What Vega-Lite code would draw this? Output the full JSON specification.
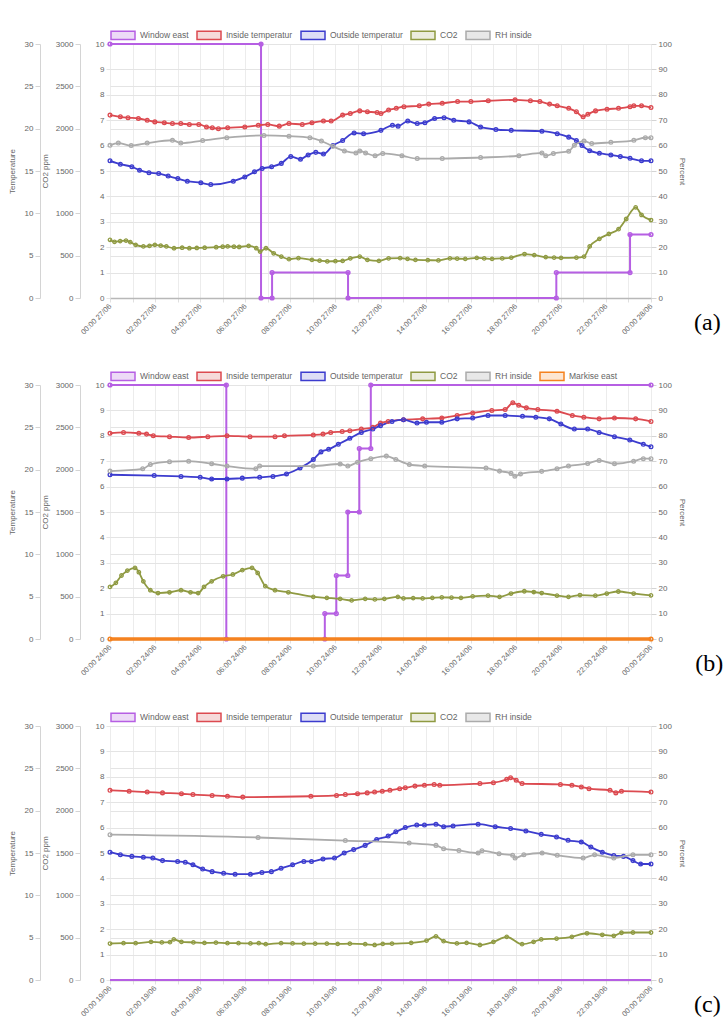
{
"$schema": "https://vega.github.io/schema/vega-lite/v6.json",
"background": "white",
"padding": {"left": 8, "top": 22, "right": 0, "bottom": 0},
"datasets": {
"a_win": [{"h":0,"v":10},{"h":6.7,"v":10},{"h":6.7,"v":0},{"h":7.19,"v":0},{"h":7.19,"v":1},{"h":10.56,"v":1},{"h":10.56,"v":0},{"h":19.8,"v":0},{"h":19.8,"v":1},{"h":23.07,"v":1},{"h":23.07,"v":2.5},{"h":24,"v":2.5}],
"a_temp": [
{"s":"Inside temperatur","h":0,"v":21.6},{"s":"Inside temperatur","h":0.46,"v":21.4},{"s":"Inside temperatur","h":0.8,"v":21.3},{"s":"Inside temperatur","h":1.26,"v":21.2},{"s":"Inside temperatur","h":1.65,"v":21.0},{"s":"Inside temperatur","h":1.99,"v":20.8},{"s":"Inside temperatur","h":2.41,"v":20.7},{"s":"Inside temperatur","h":2.77,"v":20.6},{"s":"Inside temperatur","h":3.14,"v":20.6},{"s":"Inside temperatur","h":3.52,"v":20.5},{"s":"Inside temperatur","h":3.94,"v":20.5},{"s":"Inside temperatur","h":4.28,"v":20.2},{"s":"Inside temperatur","h":4.54,"v":20.1},{"s":"Inside temperatur","h":4.81,"v":20.0},{"s":"Inside temperatur","h":5.22,"v":20.1},{"s":"Inside temperatur","h":5.98,"v":20.2},{"s":"Inside temperatur","h":6.58,"v":20.4},{"s":"Inside temperatur","h":7.0,"v":20.5},{"s":"Inside temperatur","h":7.51,"v":20.3},{"s":"Inside temperatur","h":7.94,"v":20.6},{"s":"Inside temperatur","h":8.53,"v":20.5},{"s":"Inside temperatur","h":8.96,"v":20.7},{"s":"Inside temperatur","h":9.47,"v":20.9},{"s":"Inside temperatur","h":9.81,"v":20.9},{"s":"Inside temperatur","h":10.32,"v":21.6},{"s":"Inside temperatur","h":10.66,"v":21.8},{"s":"Inside temperatur","h":11.08,"v":22.1},{"s":"Inside temperatur","h":11.42,"v":22.0},{"s":"Inside temperatur","h":11.85,"v":21.9},{"s":"Inside temperatur","h":12.02,"v":21.8},{"s":"Inside temperatur","h":12.36,"v":22.2},{"s":"Inside temperatur","h":12.7,"v":22.4},{"s":"Inside temperatur","h":13.04,"v":22.6},{"s":"Inside temperatur","h":13.72,"v":22.7},{"s":"Inside temperatur","h":14.14,"v":22.9},{"s":"Inside temperatur","h":14.74,"v":23.0},{"s":"Inside temperatur","h":15.42,"v":23.2},{"s":"Inside temperatur","h":16.01,"v":23.2},{"s":"Inside temperatur","h":16.78,"v":23.3},{"s":"Inside temperatur","h":17.97,"v":23.4},{"s":"Inside temperatur","h":18.65,"v":23.3},{"s":"Inside temperatur","h":19.07,"v":23.2},{"s":"Inside temperatur","h":19.5,"v":22.9},{"s":"Inside temperatur","h":19.84,"v":22.7},{"s":"Inside temperatur","h":20.35,"v":22.4},{"s":"Inside temperatur","h":20.69,"v":22.0},{"s":"Inside temperatur","h":20.99,"v":21.4},{"s":"Inside temperatur","h":21.2,"v":21.7},{"s":"Inside temperatur","h":21.54,"v":22.1},{"s":"Inside temperatur","h":22.05,"v":22.3},{"s":"Inside temperatur","h":22.56,"v":22.4},{"s":"Inside temperatur","h":23.07,"v":22.6},{"s":"Inside temperatur","h":23.24,"v":22.7},{"s":"Inside temperatur","h":23.58,"v":22.7},{"s":"Inside temperatur","h":24,"v":22.5},
{"s":"Outside temperatur","h":0,"v":16.2},{"s":"Outside temperatur","h":0.46,"v":15.8},{"s":"Outside temperatur","h":0.97,"v":15.5},{"s":"Outside temperatur","h":1.31,"v":15.1},{"s":"Outside temperatur","h":1.73,"v":14.8},{"s":"Outside temperatur","h":2.16,"v":14.7},{"s":"Outside temperatur","h":2.58,"v":14.4},{"s":"Outside temperatur","h":3.01,"v":14.1},{"s":"Outside temperatur","h":3.43,"v":13.8},{"s":"Outside temperatur","h":4.03,"v":13.6},{"s":"Outside temperatur","h":4.47,"v":13.4},{"s":"Outside temperatur","h":5.47,"v":13.8},{"s":"Outside temperatur","h":5.98,"v":14.3},{"s":"Outside temperatur","h":6.41,"v":14.9},{"s":"Outside temperatur","h":6.75,"v":15.3},{"s":"Outside temperatur","h":7.17,"v":15.5},{"s":"Outside temperatur","h":7.6,"v":15.9},{"s":"Outside temperatur","h":8.02,"v":16.7},{"s":"Outside temperatur","h":8.45,"v":16.4},{"s":"Outside temperatur","h":8.79,"v":16.9},{"s":"Outside temperatur","h":9.13,"v":17.2},{"s":"Outside temperatur","h":9.47,"v":17.0},{"s":"Outside temperatur","h":9.89,"v":18.0},{"s":"Outside temperatur","h":10.32,"v":18.6},{"s":"Outside temperatur","h":10.83,"v":19.5},{"s":"Outside temperatur","h":11.25,"v":19.4},{"s":"Outside temperatur","h":12.02,"v":19.8},{"s":"Outside temperatur","h":12.53,"v":20.4},{"s":"Outside temperatur","h":12.78,"v":20.3},{"s":"Outside temperatur","h":13.21,"v":20.9},{"s":"Outside temperatur","h":13.63,"v":20.6},{"s":"Outside temperatur","h":13.97,"v":20.7},{"s":"Outside temperatur","h":14.4,"v":21.2},{"s":"Outside temperatur","h":14.82,"v":21.3},{"s":"Outside temperatur","h":15.25,"v":21.0},{"s":"Outside temperatur","h":15.93,"v":20.8},{"s":"Outside temperatur","h":16.44,"v":20.2},{"s":"Outside temperatur","h":17.12,"v":19.9},{"s":"Outside temperatur","h":17.8,"v":19.8},{"s":"Outside temperatur","h":19.16,"v":19.7},{"s":"Outside temperatur","h":19.84,"v":19.4},{"s":"Outside temperatur","h":20.35,"v":19.0},{"s":"Outside temperatur","h":20.69,"v":18.6},{"s":"Outside temperatur","h":20.94,"v":18.0},{"s":"Outside temperatur","h":21.28,"v":17.4},{"s":"Outside temperatur","h":21.71,"v":17.1},{"s":"Outside temperatur","h":22.22,"v":16.9},{"s":"Outside temperatur","h":22.64,"v":16.7},{"s":"Outside temperatur","h":23.07,"v":16.5},{"s":"Outside temperatur","h":23.58,"v":16.2},{"s":"Outside temperatur","h":24,"v":16.2}],
"a_co2": [{"h":0,"v":687},{"h":0.2,"v":663},{"h":0.45,"v":672},{"h":0.71,"v":678},{"h":0.9,"v":660},{"h":1.14,"v":627},{"h":1.48,"v":609},{"h":1.75,"v":615},{"h":1.99,"v":627},{"h":2.25,"v":618},{"h":2.5,"v":609},{"h":2.84,"v":588},{"h":3.2,"v":594},{"h":3.52,"v":588},{"h":3.85,"v":591},{"h":4.2,"v":594},{"h":4.71,"v":600},{"h":5.0,"v":606},{"h":5.22,"v":609},{"h":5.5,"v":606},{"h":5.73,"v":603},{"h":6.15,"v":615},{"h":6.49,"v":588},{"h":6.66,"v":549},{"h":6.92,"v":588},{"h":7.26,"v":528},{"h":7.6,"v":489},{"h":7.94,"v":459},{"h":8.36,"v":471},{"h":8.96,"v":450},{"h":9.3,"v":441},{"h":9.64,"v":432},{"h":10.0,"v":435},{"h":10.32,"v":438},{"h":10.66,"v":468},{"h":11.08,"v":489},{"h":11.42,"v":450},{"h":11.93,"v":438},{"h":12.36,"v":468},{"h":12.87,"v":471},{"h":13.2,"v":462},{"h":13.55,"v":450},{"h":14.1,"v":447},{"h":14.57,"v":444},{"h":15.08,"v":468},{"h":15.4,"v":465},{"h":15.76,"v":462},{"h":16.27,"v":474},{"h":16.6,"v":468},{"h":16.95,"v":462},{"h":17.4,"v":468},{"h":17.8,"v":477},{"h":18.39,"v":519},{"h":18.82,"v":507},{"h":19.33,"v":483},{"h":19.7,"v":477},{"h":20.01,"v":474},{"h":20.69,"v":477},{"h":21.03,"v":489},{"h":21.28,"v":609},{"h":21.71,"v":699},{"h":22.13,"v":756},{"h":22.56,"v":813},{"h":22.9,"v":933},{"h":23.32,"v":1071},{"h":23.58,"v":981},{"h":24,"v":921}],
"a_rh": [{"h":0,"v":60.1},{"h":0.37,"v":61.0},{"h":0.94,"v":60.0},{"h":1.65,"v":61.0},{"h":2.77,"v":62.1},{"h":3.14,"v":61.0},{"h":4.11,"v":62.0},{"h":5.18,"v":63.1},{"h":6.83,"v":64.0},{"h":7.94,"v":63.7},{"h":8.87,"v":63.1},{"h":9.38,"v":61.8},{"h":9.89,"v":59.7},{"h":10.4,"v":57.9},{"h":10.91,"v":57.1},{"h":11.08,"v":57.9},{"h":11.34,"v":57.1},{"h":11.76,"v":56.0},{"h":12.1,"v":56.9},{"h":12.95,"v":56.0},{"h":13.63,"v":54.9},{"h":14.74,"v":54.9},{"h":16.44,"v":55.3},{"h":18.14,"v":56.0},{"h":19.16,"v":57.1},{"h":19.33,"v":56.0},{"h":19.67,"v":56.9},{"h":20.35,"v":57.8},{"h":20.6,"v":60.1},{"h":21.03,"v":61.8},{"h":21.37,"v":60.8},{"h":22.22,"v":61.3},{"h":23.24,"v":62.1},{"h":23.75,"v":63.1},{"h":24,"v":63.1}],
"b_win": [{"h":0,"v":10},{"h":5.16,"v":10},{"h":5.16,"v":0},{"h":9.53,"v":0},{"h":9.53,"v":1},{"h":10.04,"v":1},{"h":10.04,"v":2.5},{"h":10.55,"v":2.5},{"h":10.55,"v":5},{"h":11.06,"v":5},{"h":11.06,"v":7.5},{"h":11.57,"v":7.5},{"h":11.57,"v":10},{"h":24,"v":10}],
"b_mark": [{"h":0,"v":0},{"h":24,"v":0}],
"b_temp": [
{"s":"Inside temperatur","h":0,"v":24.3},{"s":"Inside temperatur","h":0.6,"v":24.4},{"s":"Inside temperatur","h":1.28,"v":24.3},{"s":"Inside temperatur","h":1.62,"v":24.2},{"s":"Inside temperatur","h":1.92,"v":24.0},{"s":"Inside temperatur","h":2.64,"v":23.9},{"s":"Inside temperatur","h":3.49,"v":23.8},{"s":"Inside temperatur","h":4.34,"v":23.9},{"s":"Inside temperatur","h":5.19,"v":24.0},{"s":"Inside temperatur","h":6.21,"v":23.9},{"s":"Inside temperatur","h":7.32,"v":23.9},{"s":"Inside temperatur","h":7.74,"v":24.0},{"s":"Inside temperatur","h":9.02,"v":24.1},{"s":"Inside temperatur","h":9.45,"v":24.2},{"s":"Inside temperatur","h":9.79,"v":24.4},{"s":"Inside temperatur","h":10.3,"v":24.5},{"s":"Inside temperatur","h":10.64,"v":24.6},{"s":"Inside temperatur","h":11.15,"v":24.8},{"s":"Inside temperatur","h":11.66,"v":25.0},{"s":"Inside temperatur","h":12.0,"v":25.5},{"s":"Inside temperatur","h":12.34,"v":25.7},{"s":"Inside temperatur","h":13.02,"v":25.9},{"s":"Inside temperatur","h":13.87,"v":26.0},{"s":"Inside temperatur","h":14.72,"v":26.1},{"s":"Inside temperatur","h":15.4,"v":26.4},{"s":"Inside temperatur","h":16.09,"v":26.7},{"s":"Inside temperatur","h":16.94,"v":27.0},{"s":"Inside temperatur","h":17.53,"v":27.1},{"s":"Inside temperatur","h":17.87,"v":27.9},{"s":"Inside temperatur","h":18.13,"v":27.6},{"s":"Inside temperatur","h":18.47,"v":27.3},{"s":"Inside temperatur","h":18.98,"v":27.1},{"s":"Inside temperatur","h":19.83,"v":26.9},{"s":"Inside temperatur","h":20.51,"v":26.4},{"s":"Inside temperatur","h":21.02,"v":26.2},{"s":"Inside temperatur","h":21.7,"v":26.0},{"s":"Inside temperatur","h":22.38,"v":26.1},{"s":"Inside temperatur","h":23.32,"v":26.0},{"s":"Inside temperatur","h":24,"v":25.7},
{"s":"Outside temperatur","h":0,"v":19.4},{"s":"Outside temperatur","h":1.96,"v":19.3},{"s":"Outside temperatur","h":3.15,"v":19.2},{"s":"Outside temperatur","h":4.0,"v":19.1},{"s":"Outside temperatur","h":4.51,"v":18.9},{"s":"Outside temperatur","h":5.19,"v":18.9},{"s":"Outside temperatur","h":5.87,"v":19.0},{"s":"Outside temperatur","h":6.64,"v":19.1},{"s":"Outside temperatur","h":7.23,"v":19.2},{"s":"Outside temperatur","h":7.83,"v":19.5},{"s":"Outside temperatur","h":8.43,"v":20.2},{"s":"Outside temperatur","h":9.02,"v":21.2},{"s":"Outside temperatur","h":9.36,"v":22.1},{"s":"Outside temperatur","h":9.7,"v":22.4},{"s":"Outside temperatur","h":10.13,"v":23.0},{"s":"Outside temperatur","h":10.64,"v":23.7},{"s":"Outside temperatur","h":11.15,"v":24.4},{"s":"Outside temperatur","h":11.66,"v":24.8},{"s":"Outside temperatur","h":12.0,"v":25.2},{"s":"Outside temperatur","h":12.51,"v":25.7},{"s":"Outside temperatur","h":13.02,"v":25.9},{"s":"Outside temperatur","h":13.62,"v":25.5},{"s":"Outside temperatur","h":14.04,"v":25.6},{"s":"Outside temperatur","h":14.72,"v":25.6},{"s":"Outside temperatur","h":15.4,"v":26.0},{"s":"Outside temperatur","h":16.09,"v":26.1},{"s":"Outside temperatur","h":16.77,"v":26.4},{"s":"Outside temperatur","h":17.53,"v":26.4},{"s":"Outside temperatur","h":18.3,"v":26.3},{"s":"Outside temperatur","h":18.89,"v":26.2},{"s":"Outside temperatur","h":19.49,"v":26.0},{"s":"Outside temperatur","h":20.0,"v":25.4},{"s":"Outside temperatur","h":20.6,"v":24.8},{"s":"Outside temperatur","h":21.19,"v":24.8},{"s":"Outside temperatur","h":21.7,"v":24.4},{"s":"Outside temperatur","h":22.38,"v":23.9},{"s":"Outside temperatur","h":23.06,"v":23.5},{"s":"Outside temperatur","h":23.66,"v":23.0},{"s":"Outside temperatur","h":24,"v":22.7}],
"b_co2": [{"h":0,"v":615},{"h":0.26,"v":663},{"h":0.51,"v":750},{"h":0.77,"v":807},{"h":1.11,"v":840},{"h":1.28,"v":789},{"h":1.48,"v":681},{"h":1.79,"v":576},{"h":2.13,"v":543},{"h":2.64,"v":552},{"h":3.15,"v":576},{"h":3.57,"v":552},{"h":3.91,"v":543},{"h":4.17,"v":615},{"h":4.51,"v":681},{"h":5.02,"v":741},{"h":5.45,"v":762},{"h":5.87,"v":813},{"h":6.3,"v":840},{"h":6.55,"v":780},{"h":6.89,"v":624},{"h":7.32,"v":576},{"h":7.91,"v":552},{"h":9.02,"v":498},{"h":9.62,"v":486},{"h":10.21,"v":474},{"h":10.72,"v":456},{"h":11.32,"v":474},{"h":11.75,"v":468},{"h":12.17,"v":474},{"h":12.77,"v":498},{"h":13.02,"v":480},{"h":13.45,"v":483},{"h":13.87,"v":480},{"h":14.3,"v":486},{"h":14.72,"v":492},{"h":15.15,"v":489},{"h":15.57,"v":486},{"h":16.09,"v":504},{"h":16.77,"v":513},{"h":17.28,"v":498},{"h":17.79,"v":537},{"h":18.38,"v":564},{"h":18.8,"v":555},{"h":19.15,"v":543},{"h":19.83,"v":513},{"h":20.34,"v":498},{"h":20.85,"v":519},{"h":21.53,"v":513},{"h":22.04,"v":537},{"h":22.55,"v":561},{"h":23.23,"v":537},{"h":24,"v":516}],
"b_rh": [{"h":0,"v":66.1},{"h":1.45,"v":67.0},{"h":1.79,"v":68.7},{"h":2.64,"v":69.8},{"h":3.49,"v":70.0},{"h":4.51,"v":69.0},{"h":5.19,"v":68.1},{"h":6.47,"v":67.0},{"h":6.64,"v":68.1},{"h":9.02,"v":68.1},{"h":10.21,"v":68.9},{"h":10.55,"v":68.1},{"h":10.98,"v":69.6},{"h":11.57,"v":71.0},{"h":12.26,"v":72.0},{"h":12.68,"v":70.7},{"h":13.28,"v":68.7},{"h":13.96,"v":68.1},{"h":16.68,"v":67.3},{"h":17.28,"v":66.1},{"h":17.79,"v":65.2},{"h":17.96,"v":64.1},{"h":18.21,"v":65.0},{"h":19.15,"v":66.0},{"h":19.83,"v":67.0},{"h":20.34,"v":68.1},{"h":21.19,"v":69.1},{"h":21.7,"v":70.3},{"h":22.38,"v":69.0},{"h":23.23,"v":70.0},{"h":23.66,"v":71.0},{"h":24,"v":71.0}],
"c_win": [{"h":0,"v":0},{"h":24,"v":0}],
"c_temp": [
{"s":"Inside temperatur","h":0,"v":22.4},{"s":"Inside temperatur","h":0.85,"v":22.3},{"s":"Inside temperatur","h":1.65,"v":22.2},{"s":"Inside temperatur","h":2.33,"v":22.1},{"s":"Inside temperatur","h":3.17,"v":22.0},{"s":"Inside temperatur","h":3.68,"v":21.9},{"s":"Inside temperatur","h":4.53,"v":21.8},{"s":"Inside temperatur","h":5.21,"v":21.7},{"s":"Inside temperatur","h":5.89,"v":21.6},{"s":"Inside temperatur","h":8.91,"v":21.7},{"s":"Inside temperatur","h":10.05,"v":21.8},{"s":"Inside temperatur","h":10.44,"v":21.9},{"s":"Inside temperatur","h":10.98,"v":22.0},{"s":"Inside temperatur","h":11.41,"v":22.1},{"s":"Inside temperatur","h":11.74,"v":22.2},{"s":"Inside temperatur","h":12.08,"v":22.3},{"s":"Inside temperatur","h":12.42,"v":22.4},{"s":"Inside temperatur","h":12.85,"v":22.6},{"s":"Inside temperatur","h":13.1,"v":22.7},{"s":"Inside temperatur","h":13.53,"v":22.9},{"s":"Inside temperatur","h":13.95,"v":23.0},{"s":"Inside temperatur","h":14.38,"v":23.1},{"s":"Inside temperatur","h":14.63,"v":23.0},{"s":"Inside temperatur","h":16.41,"v":23.2},{"s":"Inside temperatur","h":17.01,"v":23.3},{"s":"Inside temperatur","h":17.6,"v":23.7},{"s":"Inside temperatur","h":17.77,"v":23.9},{"s":"Inside temperatur","h":18.02,"v":23.6},{"s":"Inside temperatur","h":18.28,"v":23.2},{"s":"Inside temperatur","h":19.98,"v":23.1},{"s":"Inside temperatur","h":20.49,"v":23.0},{"s":"Inside temperatur","h":20.91,"v":22.8},{"s":"Inside temperatur","h":21.25,"v":22.6},{"s":"Inside temperatur","h":22.18,"v":22.4},{"s":"Inside temperatur","h":22.44,"v":22.1},{"s":"Inside temperatur","h":22.69,"v":22.3},{"s":"Inside temperatur","h":24,"v":22.2},
{"s":"Outside temperatur","h":0,"v":15.1},{"s":"Outside temperatur","h":0.46,"v":14.8},{"s":"Outside temperatur","h":0.97,"v":14.6},{"s":"Outside temperatur","h":1.48,"v":14.5},{"s":"Outside temperatur","h":1.9,"v":14.4},{"s":"Outside temperatur","h":2.33,"v":14.1},{"s":"Outside temperatur","h":3.0,"v":14.0},{"s":"Outside temperatur","h":3.34,"v":13.9},{"s":"Outside temperatur","h":3.68,"v":13.6},{"s":"Outside temperatur","h":4.11,"v":13.1},{"s":"Outside temperatur","h":4.53,"v":12.8},{"s":"Outside temperatur","h":5.04,"v":12.6},{"s":"Outside temperatur","h":5.55,"v":12.5},{"s":"Outside temperatur","h":6.23,"v":12.5},{"s":"Outside temperatur","h":6.74,"v":12.7},{"s":"Outside temperatur","h":7.16,"v":12.8},{"s":"Outside temperatur","h":7.59,"v":13.2},{"s":"Outside temperatur","h":8.1,"v":13.6},{"s":"Outside temperatur","h":8.6,"v":14.0},{"s":"Outside temperatur","h":8.94,"v":14.0},{"s":"Outside temperatur","h":9.45,"v":14.3},{"s":"Outside temperatur","h":9.96,"v":14.4},{"s":"Outside temperatur","h":10.39,"v":15.0},{"s":"Outside temperatur","h":10.81,"v":15.4},{"s":"Outside temperatur","h":11.32,"v":15.9},{"s":"Outside temperatur","h":11.83,"v":16.6},{"s":"Outside temperatur","h":12.34,"v":17.0},{"s":"Outside temperatur","h":12.68,"v":17.5},{"s":"Outside temperatur","h":13.1,"v":18.0},{"s":"Outside temperatur","h":13.61,"v":18.3},{"s":"Outside temperatur","h":13.95,"v":18.3},{"s":"Outside temperatur","h":14.46,"v":18.4},{"s":"Outside temperatur","h":14.8,"v":18.1},{"s":"Outside temperatur","h":15.22,"v":18.2},{"s":"Outside temperatur","h":16.33,"v":18.4},{"s":"Outside temperatur","h":17.09,"v":18.1},{"s":"Outside temperatur","h":17.77,"v":17.9},{"s":"Outside temperatur","h":18.45,"v":17.6},{"s":"Outside temperatur","h":19.13,"v":17.2},{"s":"Outside temperatur","h":19.81,"v":16.9},{"s":"Outside temperatur","h":20.32,"v":16.5},{"s":"Outside temperatur","h":20.91,"v":16.3},{"s":"Outside temperatur","h":21.33,"v":15.7},{"s":"Outside temperatur","h":21.84,"v":15.1},{"s":"Outside temperatur","h":22.35,"v":14.7},{"s":"Outside temperatur","h":22.78,"v":14.6},{"s":"Outside temperatur","h":23.2,"v":14.1},{"s":"Outside temperatur","h":23.54,"v":13.7},{"s":"Outside temperatur","h":24,"v":13.7}],
"c_co2": [{"h":0,"v":431},{"h":0.6,"v":435},{"h":1.14,"v":435},{"h":1.82,"v":450},{"h":2.3,"v":444},{"h":2.66,"v":447},{"h":2.83,"v":480},{"h":3.17,"v":450},{"h":3.7,"v":444},{"h":4.19,"v":438},{"h":4.7,"v":441},{"h":5.21,"v":435},{"h":5.7,"v":435},{"h":6.23,"v":432},{"h":6.6,"v":435},{"h":6.91,"v":423},{"h":7.59,"v":435},{"h":8.1,"v":432},{"h":8.6,"v":429},{"h":9.1,"v":429},{"h":9.62,"v":429},{"h":10.1,"v":426},{"h":10.64,"v":429},{"h":11.32,"v":423},{"h":11.74,"v":414},{"h":12.1,"v":426},{"h":12.51,"v":429},{"h":13.36,"v":438},{"h":14.04,"v":465},{"h":14.46,"v":516},{"h":14.8,"v":459},{"h":15.39,"v":432},{"h":15.82,"v":438},{"h":16.41,"v":414},{"h":17.01,"v":450},{"h":17.6,"v":510},{"h":18.28,"v":423},{"h":18.79,"v":450},{"h":19.13,"v":480},{"h":19.81,"v":489},{"h":20.49,"v":510},{"h":21.16,"v":552},{"h":21.84,"v":534},{"h":22.35,"v":522},{"h":22.69,"v":558},{"h":23.2,"v":561},{"h":24,"v":561}],
"c_rh": [{"h":0,"v":57.2},{"h":6.57,"v":56.1},{"h":10.44,"v":54.9},{"h":13.27,"v":53.9},{"h":14.46,"v":53.0},{"h":14.8,"v":51.7},{"h":15.48,"v":51.0},{"h":16.33,"v":50.0},{"h":16.5,"v":50.9},{"h":17.26,"v":49.7},{"h":17.86,"v":49.1},{"h":17.97,"v":48.0},{"h":18.36,"v":49.3},{"h":19.17,"v":50.0},{"h":19.84,"v":49.1},{"h":20.99,"v":48.0},{"h":21.5,"v":49.3},{"h":22.35,"v":48.0},{"h":23.2,"v":49.3},{"h":24,"v":49.3}]
},
"spacing": 27,
"resolve": {"scale": {"color": "independent", "x": "independent", "y": "independent"}, "legend": {"color": "independent"}},
"vconcat": [
{
"width": 541, "height": 254,
"title": {"text": "(a)", "orient": "right", "anchor": "end", "angle": 0, "align": "left", "baseline": "bottom", "font": "Liberation Serif", "fontSize": 24, "fontWeight": "normal", "color": "#000", "offset": -18, "frame": "bounds"},
"encoding": {"x": {"field": "h", "type": "quantitative", "scale": {"domain": [0, 24], "nice": false, "zero": false},
  "axis": {"title": null, "values": [0,1,2,3,4,5,6,7,8,9,10,11,12,13,14,15,16,17,18,19,20,21,22,23,24], "labelExpr": "datum.value % 2 != 0 ? '' : ((datum.value % 24 < 10 ? '0' : '') + (datum.value % 24) + ':00 ' + (datum.value < 24 ? '27/06' : '28/06'))", "labelAngle": -45, "labelAlign": "right", "labelBaseline": "middle", "labelOverlap": false, "labelFlush": false, "labelBound": false, "labelFontSize": 7.5, "gridColor": "#ececec", "domainColor": "#b8b8b8", "domainWidth": 1.5, "tickColor": "#e0e0e0", "tickSize": 4, "labelPadding": 3}}},
"layer": [
 {"data": {"name": "a_win"}, "mark": {"type": "line", "strokeWidth": 2, "point": {"filled": false, "size": 14, "strokeWidth": 1.5}},
  "encoding": {"y": {"field": "v", "type": "quantitative", "scale": {"domain": [0, 10], "nice": false}, "axis": {"orient": "left", "title": null, "values": [0,1,2,3,4,5,6,7,8,9,10], "domain": false, "grid": true, "tickSize": 4, "tickColor": "#e5e5e5"}},
   "color": {"datum": "Window east", "type": "nominal", "title": null, "scale": {"domain": ["Window east", "Inside temperatur", "Outside temperatur", "CO2", "RH inside"], "range": ["#b65fe3", "#dc4a50", "#3c3cce", "#8f9a42", "#ababab"]},
    "legend": {"title": null, "orient": "top", "direction": "horizontal", "offset": 1, "padding": 0, "symbolType": "M-1,-0.35L1,-0.35L1,0.35L-1,0.35Z", "symbolSize": 576, "symbolStrokeWidth": 1.5, "labelFontSize": 8.5, "labelColor": "#666", "labelOffset": 4, "columnPadding": 5,
     "encode": {"symbols": {"update": {"fill": {"signal": "datum.value === 'Window east' ? '#eddaf7' : datum.value === 'Inside temperatur' ? '#f6dada' : datum.value === 'Outside temperatur' ? '#dedef6' : datum.value === 'CO2' ? '#ebecdd' : datum.value === 'RH inside' ? '#e8e8e8' : '#fde6d2'"}, "fillOpacity": {"value": 1}, "opacity": {"value": 1}}}}}}}},
 {"data": {"name": "a_temp"}, "mark": {"type": "line", "interpolate": "monotone", "strokeWidth": 1.8, "point": {"filled": false, "size": 14, "strokeWidth": 1.3}},
  "encoding": {"y": {"field": "v", "type": "quantitative", "scale": {"domain": [0, 30], "nice": false}, "axis": {"orient": "left", "offset": 70, "title": "Temperature", "values": [0,5,10,15,20,25,30], "grid": true, "titlePadding": 8}},
   "color": {"field": "s", "type": "nominal", "title": null}}},
 {"data": {"name": "a_co2"}, "mark": {"type": "line", "interpolate": "monotone", "strokeWidth": 1.8, "point": {"filled": false, "size": 12, "strokeWidth": 1.3}},
  "encoding": {"y": {"field": "v", "type": "quantitative", "scale": {"domain": [0, 3000], "nice": false}, "axis": {"orient": "left", "offset": 30, "title": "CO2 ppm", "format": "d", "values": [0,500,1000,1500,2000,2500,3000], "grid": false, "titlePadding": 6}},
   "color": {"datum": "CO2", "type": "nominal", "title": null}}},
 {"data": {"name": "a_rh"}, "mark": {"type": "line", "interpolate": "monotone", "strokeWidth": 1.8, "point": {"filled": false, "size": 14, "strokeWidth": 1.3}},
  "encoding": {"y": {"field": "v", "type": "quantitative", "scale": {"domain": [0, 100], "nice": false}, "axis": {"orient": "right", "title": "Percent", "values": [0,10,20,30,40,50,60,70,80,90,100], "grid": false, "domain": false, "titlePadding": 6}},
   "color": {"datum": "RH inside", "type": "nominal", "title": null}}}
],
"resolve": {"scale": {"y": "independent"}}
},
{
"width": 541, "height": 254,
"title": {"text": "(b)", "orient": "right", "anchor": "end", "angle": 0, "align": "left", "baseline": "bottom", "font": "Liberation Serif", "fontSize": 24, "fontWeight": "normal", "color": "#000", "offset": -18, "frame": "bounds"},
"encoding": {"x": {"field": "h", "type": "quantitative", "scale": {"domain": [0, 24], "nice": false, "zero": false},
  "axis": {"title": null, "values": [0,1,2,3,4,5,6,7,8,9,10,11,12,13,14,15,16,17,18,19,20,21,22,23,24], "labelExpr": "datum.value % 2 != 0 ? '' : ((datum.value % 24 < 10 ? '0' : '') + (datum.value % 24) + ':00 ' + (datum.value < 24 ? '24/06' : '25/06'))", "labelAngle": -45, "labelAlign": "right", "labelBaseline": "middle", "labelOverlap": false, "labelFlush": false, "labelBound": false, "labelFontSize": 7.5, "gridColor": "#ececec", "domainColor": "#b8b8b8", "domainWidth": 1.5, "tickColor": "#e0e0e0", "tickSize": 4, "labelPadding": 3}}},
"layer": [
 {"data": {"name": "b_win"}, "mark": {"type": "line", "strokeWidth": 2, "point": {"filled": false, "size": 14, "strokeWidth": 1.5}},
  "encoding": {"y": {"field": "v", "type": "quantitative", "scale": {"domain": [0, 10], "nice": false}, "axis": {"orient": "left", "title": null, "values": [0,1,2,3,4,5,6,7,8,9,10], "domain": false, "grid": true, "tickSize": 4, "tickColor": "#e5e5e5"}},
   "color": {"datum": "Window east", "type": "nominal", "title": null, "scale": {"domain": ["Window east", "Inside temperatur", "Outside temperatur", "CO2", "RH inside", "Markise east"], "range": ["#b65fe3", "#dc4a50", "#3c3cce", "#8f9a42", "#ababab", "#f5821f"]},
    "legend": {"title": null, "orient": "top", "direction": "horizontal", "offset": 1, "padding": 0, "symbolType": "M-1,-0.35L1,-0.35L1,0.35L-1,0.35Z", "symbolSize": 576, "symbolStrokeWidth": 1.5, "labelFontSize": 8.5, "labelColor": "#666", "labelOffset": 4, "columnPadding": 5,
     "encode": {"symbols": {"update": {"fill": {"signal": "datum.value === 'Window east' ? '#eddaf7' : datum.value === 'Inside temperatur' ? '#f6dada' : datum.value === 'Outside temperatur' ? '#dedef6' : datum.value === 'CO2' ? '#ebecdd' : datum.value === 'RH inside' ? '#e8e8e8' : '#fde6d2'"}, "fillOpacity": {"value": 1}, "opacity": {"value": 1}}}}}}}},
 {"data": {"name": "b_temp"}, "mark": {"type": "line", "interpolate": "monotone", "strokeWidth": 1.8, "point": {"filled": false, "size": 14, "strokeWidth": 1.3}},
  "encoding": {"y": {"field": "v", "type": "quantitative", "scale": {"domain": [0, 30], "nice": false}, "axis": {"orient": "left", "offset": 70, "title": "Temperature", "values": [0,5,10,15,20,25,30], "grid": true, "titlePadding": 8}},
   "color": {"field": "s", "type": "nominal", "title": null}}},
 {"data": {"name": "b_co2"}, "mark": {"type": "line", "interpolate": "monotone", "strokeWidth": 1.8, "point": {"filled": false, "size": 12, "strokeWidth": 1.3}},
  "encoding": {"y": {"field": "v", "type": "quantitative", "scale": {"domain": [0, 3000], "nice": false}, "axis": {"orient": "left", "offset": 30, "title": "CO2 ppm", "format": "d", "values": [0,500,1000,1500,2000,2500,3000], "grid": false, "titlePadding": 6}},
   "color": {"datum": "CO2", "type": "nominal", "title": null}}},
 {"data": {"name": "b_rh"}, "mark": {"type": "line", "interpolate": "monotone", "strokeWidth": 1.8, "point": {"filled": false, "size": 14, "strokeWidth": 1.3}},
  "encoding": {"y": {"field": "v", "type": "quantitative", "scale": {"domain": [0, 100], "nice": false}, "axis": {"orient": "right", "title": "Percent", "values": [0,10,20,30,40,50,60,70,80,90,100], "grid": false, "domain": false, "titlePadding": 6}},
   "color": {"datum": "RH inside", "type": "nominal", "title": null}}},
 {"data": {"name": "b_mark"}, "mark": {"type": "line", "strokeWidth": 3.5, "point": {"filled": false, "size": 14, "strokeWidth": 1.5}},
  "encoding": {"y": {"field": "v", "type": "quantitative", "scale": {"domain": [0, 10], "nice": false}, "axis": null},
   "color": {"datum": "Markise east", "type": "nominal", "title": null}}}
],
"resolve": {"scale": {"y": "independent"}}
},
{
"width": 541, "height": 254,
"title": {"text": "(c)", "orient": "right", "anchor": "end", "angle": 0, "align": "left", "baseline": "bottom", "font": "Liberation Serif", "fontSize": 24, "fontWeight": "normal", "color": "#000", "offset": -18, "frame": "bounds"},
"encoding": {"x": {"field": "h", "type": "quantitative", "scale": {"domain": [0, 24], "nice": false, "zero": false},
  "axis": {"title": null, "values": [0,1,2,3,4,5,6,7,8,9,10,11,12,13,14,15,16,17,18,19,20,21,22,23,24], "labelExpr": "datum.value % 2 != 0 ? '' : ((datum.value % 24 < 10 ? '0' : '') + (datum.value % 24) + ':00 ' + (datum.value < 24 ? '19/06' : '20/06'))", "labelAngle": -45, "labelAlign": "right", "labelBaseline": "middle", "labelOverlap": false, "labelFlush": false, "labelBound": false, "labelFontSize": 7.5, "gridColor": "#ececec", "domainColor": "#b8b8b8", "domainWidth": 1.5, "tickColor": "#e0e0e0", "tickSize": 4, "labelPadding": 3}}},
"layer": [
 {"data": {"name": "c_temp"}, "mark": {"type": "line", "interpolate": "monotone", "strokeWidth": 1.8, "point": {"filled": false, "size": 14, "strokeWidth": 1.3}},
  "encoding": {"y": {"field": "v", "type": "quantitative", "scale": {"domain": [0, 30], "nice": false}, "axis": {"orient": "left", "offset": 70, "title": "Temperature", "values": [0,5,10,15,20,25,30], "grid": true, "titlePadding": 8}},
   "color": {"field": "s", "type": "nominal", "title": null, "scale": {"domain": ["Window east", "Inside temperatur", "Outside temperatur", "CO2", "RH inside"], "range": ["#b65fe3", "#dc4a50", "#3c3cce", "#8f9a42", "#ababab"]},
    "legend": {"title": null, "orient": "top", "direction": "horizontal", "offset": 1, "padding": 0, "symbolType": "M-1,-0.35L1,-0.35L1,0.35L-1,0.35Z", "symbolSize": 576, "symbolStrokeWidth": 1.5, "labelFontSize": 8.5, "labelColor": "#666", "labelOffset": 4, "columnPadding": 5,
     "encode": {"symbols": {"update": {"fill": {"signal": "datum.value === 'Window east' ? '#eddaf7' : datum.value === 'Inside temperatur' ? '#f6dada' : datum.value === 'Outside temperatur' ? '#dedef6' : datum.value === 'CO2' ? '#ebecdd' : datum.value === 'RH inside' ? '#e8e8e8' : '#fde6d2'"}, "fillOpacity": {"value": 1}, "opacity": {"value": 1}}}}}}}},
 {"data": {"name": "c_co2"}, "mark": {"type": "line", "interpolate": "monotone", "strokeWidth": 1.8, "point": {"filled": false, "size": 12, "strokeWidth": 1.3}},
  "encoding": {"y": {"field": "v", "type": "quantitative", "scale": {"domain": [0, 3000], "nice": false}, "axis": {"orient": "left", "offset": 30, "title": "CO2 ppm", "format": "d", "values": [0,500,1000,1500,2000,2500,3000], "grid": false, "titlePadding": 6}},
   "color": {"datum": "CO2", "type": "nominal", "title": null}}},
 {"data": {"name": "c_rh"}, "mark": {"type": "line", "interpolate": "monotone", "strokeWidth": 1.8, "point": {"filled": false, "size": 14, "strokeWidth": 1.3}},
  "encoding": {"y": {"field": "v", "type": "quantitative", "scale": {"domain": [0, 100], "nice": false}, "axis": {"orient": "right", "title": "Percent", "values": [0,10,20,30,40,50,60,70,80,90,100], "grid": false, "domain": false, "titlePadding": 6}},
   "color": {"datum": "RH inside", "type": "nominal", "title": null}}},
 {"data": {"name": "c_win"}, "mark": {"type": "line", "strokeWidth": 2},
  "encoding": {"y": {"field": "v", "type": "quantitative", "scale": {"domain": [0, 10], "nice": false}, "axis": {"orient": "left", "title": null, "values": [0,1,2,3,4,5,6,7,8,9,10], "domain": false, "grid": true, "tickSize": 4, "tickColor": "#e5e5e5"}},
   "color": {"datum": "Window east", "type": "nominal", "title": null}}}
],
"resolve": {"scale": {"y": "independent"}}
}
],
"config": {
 "font": "Liberation Sans",
 "view": {"stroke": null},
 "axis": {"labelFontSize": 8, "labelColor": "#666", "titleFontSize": 8, "titleFontWeight": "normal", "titleColor": "#666", "gridColor": "#e4e4e4", "domainColor": "#d4d4d4", "tickColor": "#d4d4d4", "tickSize": 5, "labelPadding": 2}
}
}
